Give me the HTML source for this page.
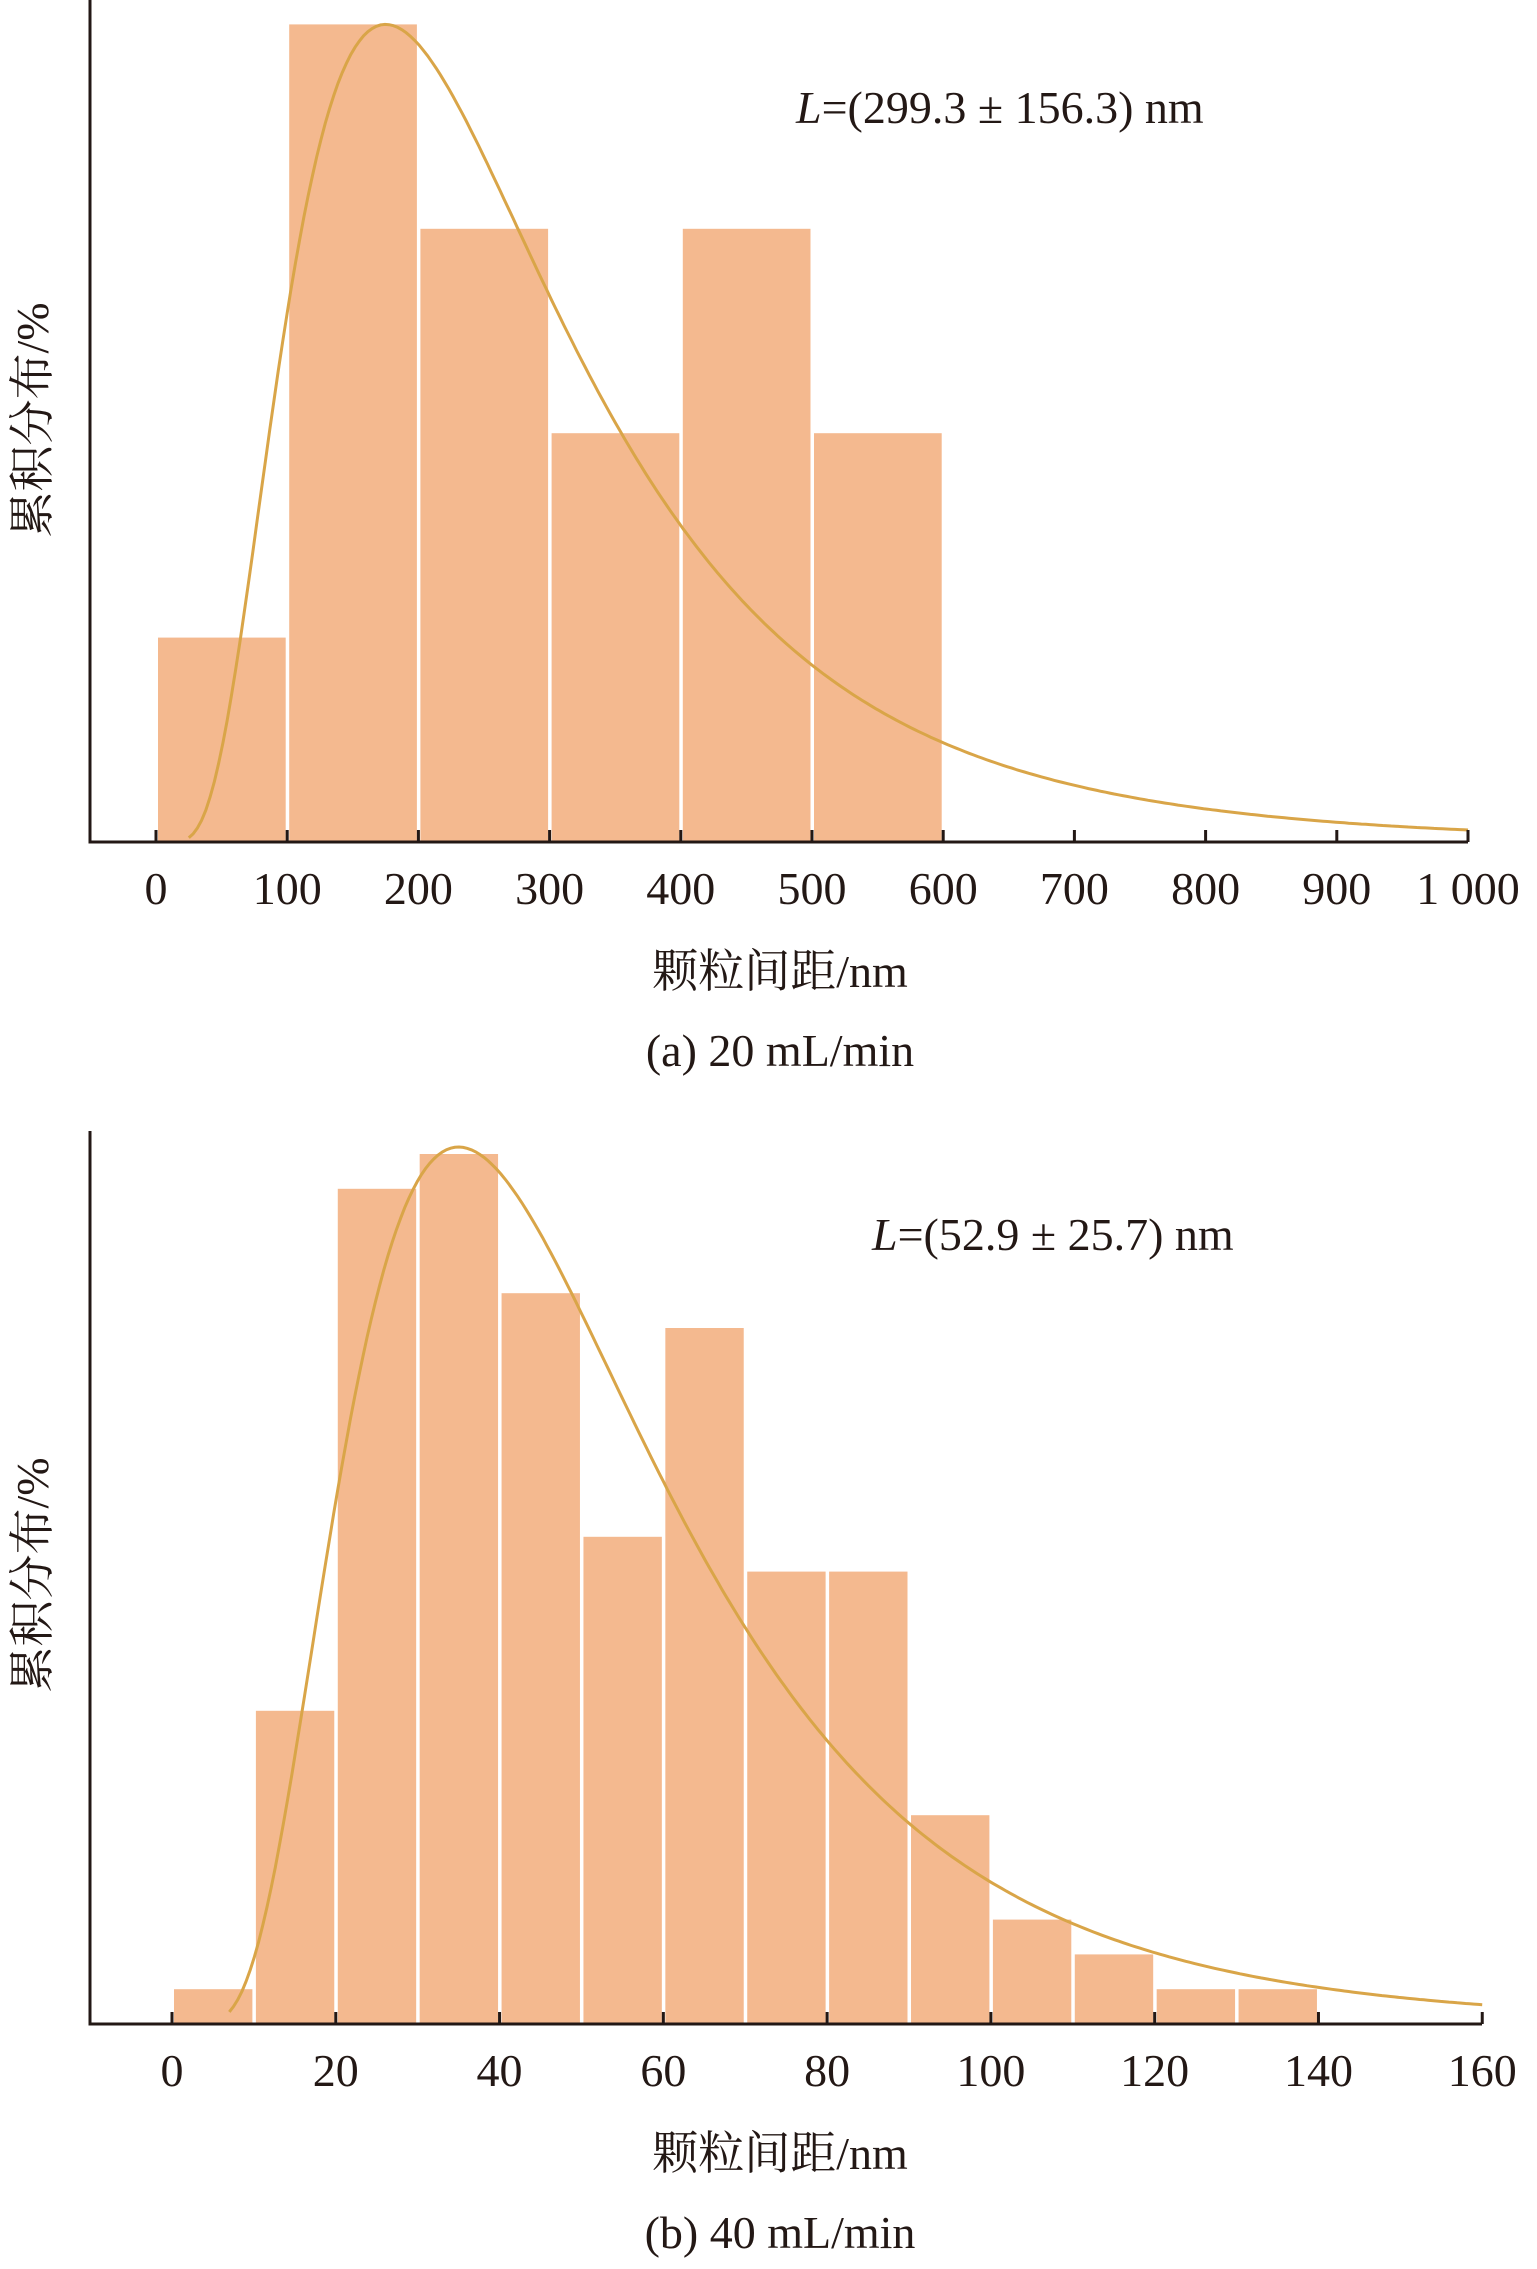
<!DOCTYPE html>
<html><head><meta charset="utf-8"><style>
html,body{margin:0;padding:0;background:#fff}
svg text{font-family:"Liberation Serif","Noto Serif CJK SC",serif;fill:#231815}
</style></head><body>
<svg id="fig" width="1537" height="2264" viewBox="0 0 1537 2264" xmlns="http://www.w3.org/2000/svg"></svg>
<script>
// Chart (a) data
const aBinStarts=[0,100,200,300,400,500];
const aCounts=[1,4,3,2,3,2];
const aTicks=[0,100,200,300,400,500,600,700,800,900,1000];
const aTickLabels=["0","100","200","300","400","500","600","700","800","900","1 000"];
const aFit=[175,0.6,4.0]; // mode, sigma, peak height
// Chart (b) data
const bBinStarts=[0,10,20,30,40,50,60,70,80,90,100,110,120,130];
const bCounts=[1,9,24,25,21,14,20,13,13,6,3,2,1,1];
const bTicks=[0,20,40,60,80,100,120,140,160];
const bTickLabels=["0","20","40","60","80","100","120","140","160"];
const bFit=[35,0.55,25.2];

const NS="http://www.w3.org/2000/svg";
const svg=document.getElementById('fig');
function mk(t,a,p){const e=document.createElementNS(NS,t);for(const k in a)e.setAttribute(k,a[k]);(p||svg).appendChild(e);return e;}

function chart(cfg){
  const g=mk('g',{});
  
  
  const X=v=>cfg.x0+v*cfg.kx, Y=v=>cfg.base-v*cfg.ky;
  cfg.starts.forEach((s,i)=>{
    const r=mk('rect',{x:X(s)+2,y:Y(cfg.counts[i]),width:cfg.bw*cfg.kx-3.5,height:cfg.counts[i]*cfg.ky,fill:'#f4b98f'},g);
    
    
  });
  const [mode,s,pk]=cfg.fit; const mu=Math.log(mode)+s*s;
  const f=x=>(mode/x)*Math.exp(-((Math.log(x)-mu)**2)/(2*s*s)+((Math.log(mode)-mu)**2)/(2*s*s));
  let d='';const N=300;
  for(let i=0;i<=N;i++){const x=cfg.c0+(cfg.c1-cfg.c0)*i/N;d+=(i?'L':'M')+X(x).toFixed(1)+','+Y(pk*f(x)).toFixed(1);}
  const c=mk('path',{d:d,fill:'none',stroke:'#d9a548','stroke-width':3},g);
  
  
  const ax=mk('path',{d:`M${cfg.ax},${cfg.top}V${cfg.base}H${cfg.right}`,fill:'none',stroke:'#231815','stroke-width':3},g);
  
  
  cfg.ticks.forEach((t,i)=>{
    mk('line',{x1:X(t),x2:X(t),y1:cfg.base,y2:cfg.base-12,stroke:'#231815','stroke-width':3},g);
    const tx=mk('text',{x:X(t),y:cfg.base+62,'font-size':46,'text-anchor':'middle'},g);
    tx.textContent=cfg.labels[i];
    
    
  });
  const xl=mk('text',{x:780,y:cfg.base+145,'font-size':46,'text-anchor':'middle'},g);
  xl.textContent='颗粒间距/nm';
  
  
  const cp=mk('text',{x:780,y:cfg.base+224,'font-size':46,'text-anchor':'middle'},g);
  cp.textContent=cfg.caption;
  
  
  const yl=mk('text',{x:0,y:0,'font-size':46,'text-anchor':'middle',transform:`translate(48,${cfg.ymid}) rotate(-90)`},g);
  yl.textContent='累积分布/%';
  
  
  const an=mk('text',{x:cfg.annX,y:cfg.annY,'font-size':46},g);
  an.innerHTML='<tspan font-style="italic">L</tspan>='+cfg.ann;
  
  
}
chart({name:'chart-a',x0:156,kx:1.312,base:842,ky:204.4,top:0,ax:90,right:1468,bw:100,
  starts:aBinStarts,counts:aCounts,ticks:aTicks,labels:aTickLabels,fit:aFit,c0:25,c1:1000,
  caption:'(a) 20 mL/min',ymid:420,annX:796,annY:123,ann:'(299.3 ± 156.3) nm'});
chart({name:'chart-b',x0:172,kx:8.189,base:2024,ky:34.8,top:1131,ax:90,right:1482,bw:10,
  starts:bBinStarts,counts:bCounts,ticks:bTicks,labels:bTickLabels,fit:bFit,c0:7,c1:160,
  caption:'(b) 40 mL/min',ymid:1575,annX:872,annY:1250,ann:'(52.9 ± 25.7) nm'});
</script>
</body></html>
